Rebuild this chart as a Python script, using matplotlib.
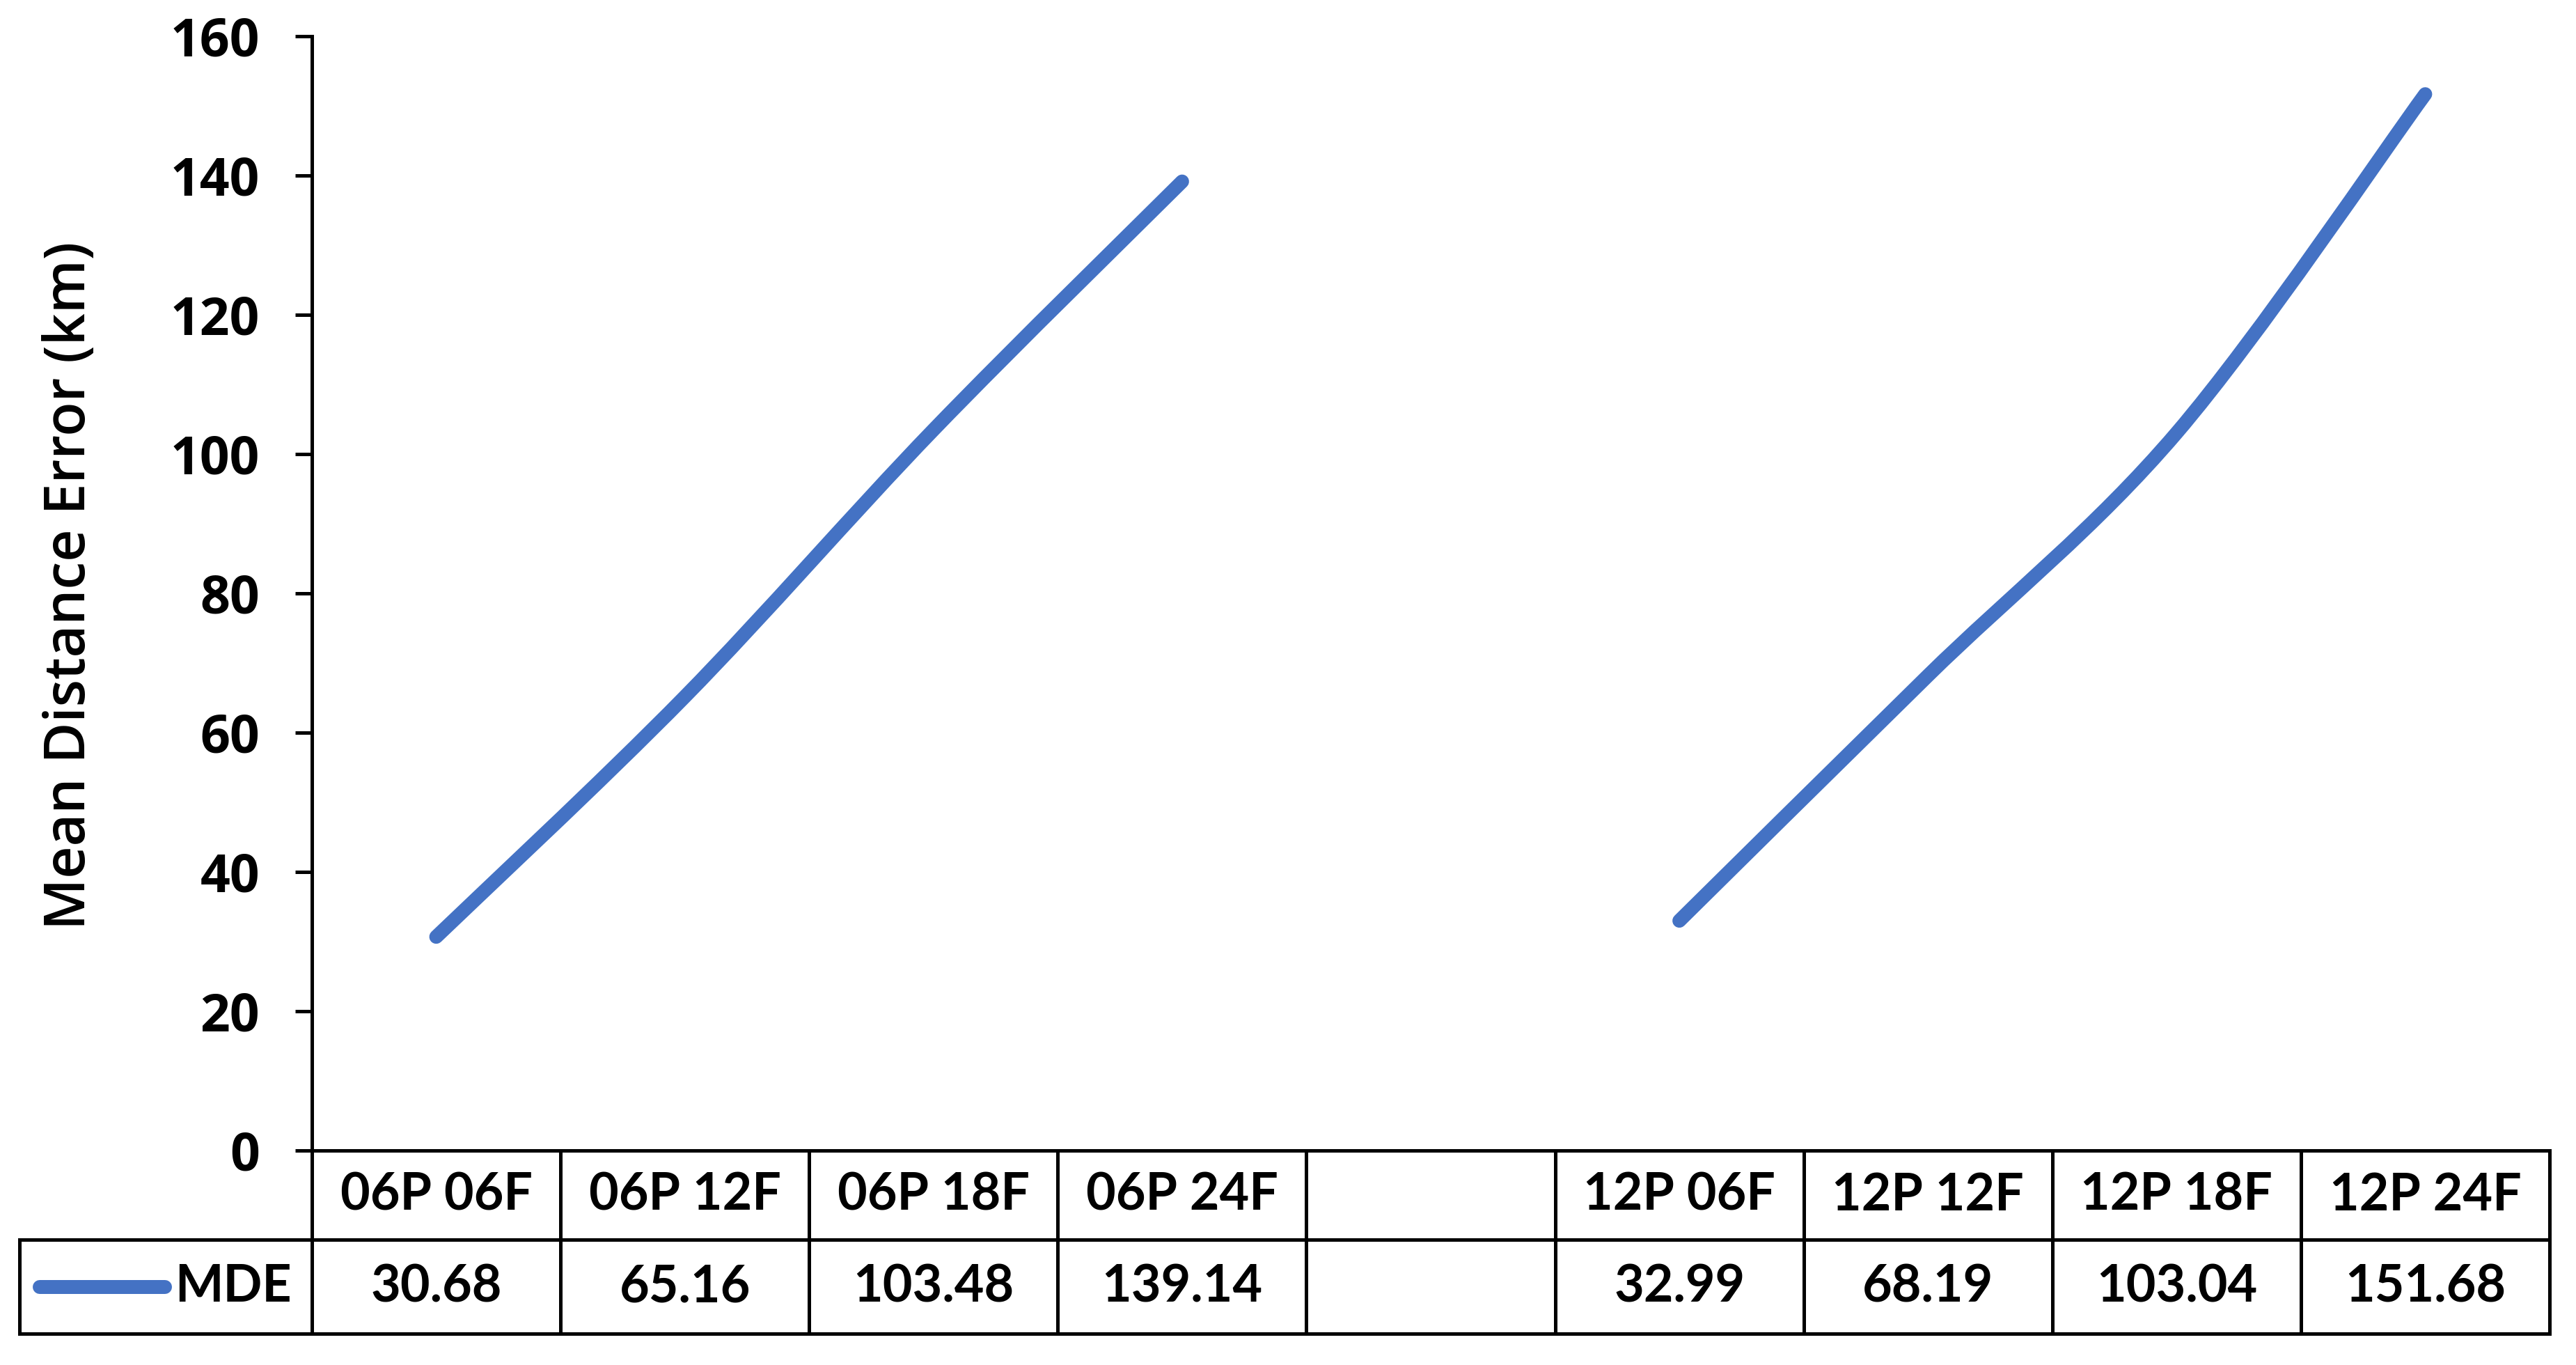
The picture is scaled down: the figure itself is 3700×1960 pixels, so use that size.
"""Mean distance error per forecast lead, Excel-style line chart with data table."""

import matplotlib

matplotlib.use("Agg")

import matplotlib.pyplot as plt
import matplotlib.transforms as mtransforms
from matplotlib.patches import PathPatch
from matplotlib.path import Path

categories = ["06P 06F", "06P 12F", "06P 18F", "06P 24F", "",
              "12P 06F", "12P 12F", "12P 18F", "12P 24F"]
mde = [30.68, 65.16, 103.48, 139.14, None, 32.99, 68.19, 103.04, 151.68]
series_name = "MDE"
y_ticks = [0, 20, 40, 60, 80, 100, 120, 140, 160]
y_label = "Mean Distance Error (km)"

LINE_BLUE = "#4472C4"
TICK_FONT = "Open Sans"
TABLE_FONT = "Lato"


def smooth_segments(xs, ys):
    """Bezier path through the points (Catmull-Rom style, like Excel's smoothed line)."""
    verts, codes = [], []
    seg = []
    for x, y in zip(xs, ys):
        if y is None:
            if seg:
                _add_segment(seg, verts, codes)
            seg = []
        else:
            seg.append((x, y))
    if seg:
        _add_segment(seg, verts, codes)
    return Path(verts, codes)


def _add_segment(pts, verts, codes):
    n = len(pts)
    verts.append(pts[0])
    codes.append(Path.MOVETO)
    for i in range(n - 1):
        p0 = pts[i - 1] if i > 0 else pts[i]
        p1, p2 = pts[i], pts[i + 1]
        p3 = pts[i + 2] if i + 2 < n else pts[i + 1]
        c1 = (p1[0] + (p2[0] - p0[0]) / 6, p1[1] + (p2[1] - p0[1]) / 6)
        c2 = (p2[0] - (p3[0] - p1[0]) / 6, p2[1] - (p3[1] - p1[1]) / 6)
        verts += [c1, c2, p2]
        codes += [Path.CURVE4] * 3


W, H = 3700, 1960
fig = plt.figure(figsize=(W / 100, H / 100), dpi=100)
ax_left, ax_right = 448 / W, 3662 / W
ax_bottom, ax_top = (H - 1652) / H, (H - 52) / H
ax = fig.add_axes([ax_left, ax_bottom, ax_right - ax_left, ax_top - ax_bottom])

xs = list(range(len(categories)))
path = smooth_segments(xs, mde)
ax.add_patch(PathPatch(path, fill=False, edgecolor=LINE_BLUE, linewidth=14.4,
                       capstyle="round", joinstyle="round"))

ax.set_xlim(-0.5, len(categories) - 0.5)
ax.set_ylim(0, 160)
ax.set_yticks(y_ticks)
ax.set_xticks([])
for side in ("top", "right"):
    ax.spines[side].set_visible(False)
for side in ("left", "bottom"):
    ax.spines[side].set_linewidth(3.6)
ax.tick_params(axis="y", direction="out", length=17, width=3.6, pad=37)
for lab in ax.get_yticklabels():
    lab.set_fontfamily(TICK_FONT)
    lab.set_fontweight("bold")
    lab.set_fontsize(54)

ax.text((101 - 448) / 3214, (1652 - 841) / 1600, y_label, transform=ax.transAxes,
        rotation=90, ha="center", va="center", fontsize=58, fontfamily=TICK_FONT,
        fontweight="semibold")

# data table under the axis
hdr_bot = -128 / 1600
val_bot = -263 / 1600
leg_left = (28 - 448) / 3214
blend = mtransforms.blended_transform_factory(ax.transData, ax.transAxes)
lw = 3.6
line_kw = dict(color="black", linewidth=lw, clip_on=False, solid_capstyle="projecting")

ax.plot([leg_left, 1], [hdr_bot, hdr_bot], transform=ax.transAxes, **line_kw)
ax.plot([leg_left, 1], [val_bot, val_bot], transform=ax.transAxes, **line_kw)
ax.plot([leg_left, leg_left], [hdr_bot, val_bot], transform=ax.transAxes, **line_kw)
for k in range(len(categories) + 1):
    ax.plot([k - 0.5, k - 0.5], [0, val_bot], transform=blend, **line_kw)

hdr_y = hdr_bot / 2
val_y = (hdr_bot + val_bot) / 2
for x, cat, v in zip(xs, categories, mde):
    ax.text(x, hdr_y, cat, transform=blend, ha="center", va="center",
            fontsize=53, fontfamily=TABLE_FONT, fontweight="bold")
    if v is not None:
        ax.text(x, val_y, f"{v:.2f}", transform=blend, ha="center", va="center",
                fontsize=53, fontfamily=TABLE_FONT, fontweight="bold")

# legend key in the table
ax.plot([(57 - 448) / 3214, (237 - 448) / 3214], [val_y, val_y], transform=ax.transAxes,
        color=LINE_BLUE, linewidth=14.4, solid_capstyle="round", clip_on=False)
ax.text((419 - 448) / 3214, val_y, series_name, transform=ax.transAxes, ha="right",
        va="center", fontsize=53, fontfamily=TABLE_FONT, fontweight="bold")

fig.savefig("out.png", dpi=100)
plt.close(fig)
